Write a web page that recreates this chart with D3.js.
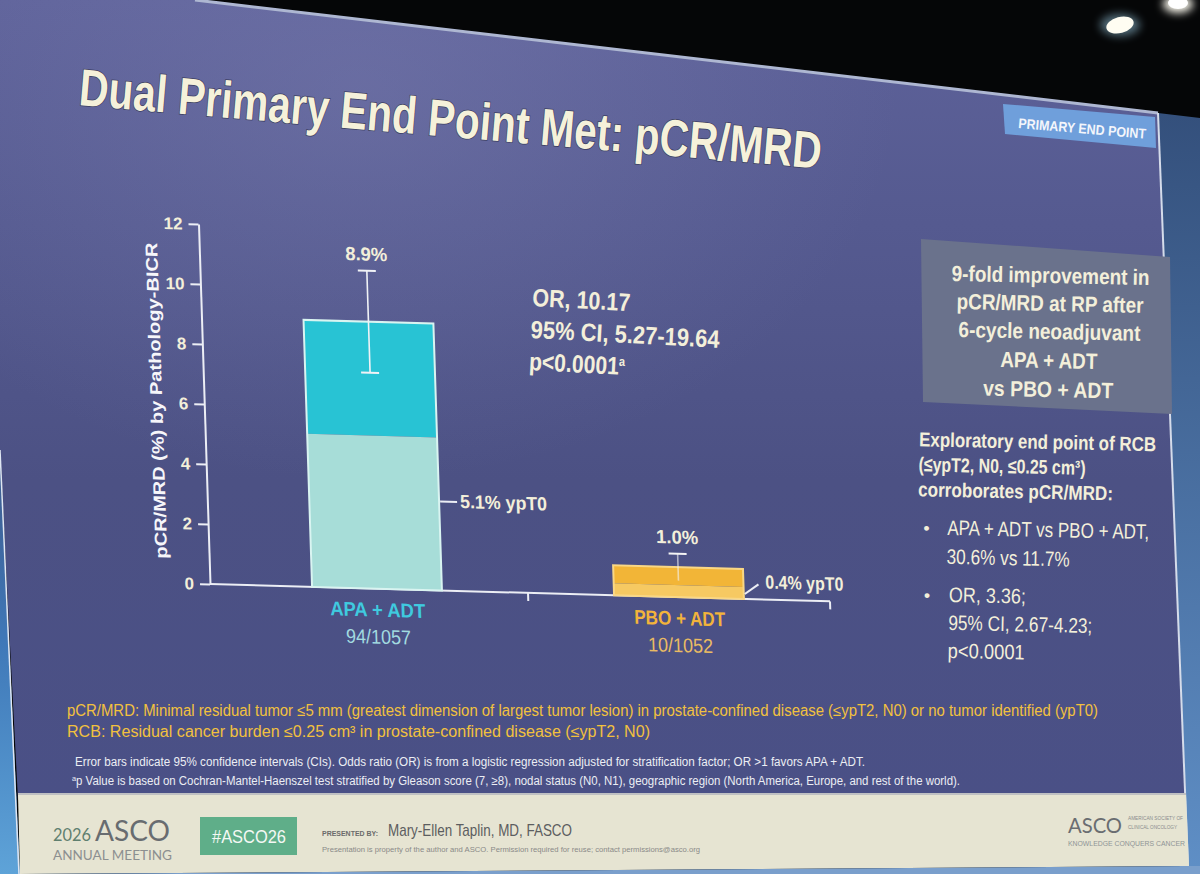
<!DOCTYPE html>
<html>
<head>
<meta charset="utf-8">
<script src="https://cdn.jsdelivr.net/npm/d3@7"></script>
<style>
    html, body { margin: 0; padding: 0; background: #050607; }
    svg { display: block; }
    text { font-family: "Liberation Sans Narrow", "Arial Narrow", "Liberation Sans", Arial, sans-serif; }
</style>
</head>
<body>
<svg id="slide" width="1200" height="874"></svg>
<script>
    /****** Data ******/

    const groups = ['APA + ADT', 'PBO + ADT'];
    const groupCounts = ['94/1057', '10/1052'];
    const pcrMrd = [8.9, 1.0];
    const ypT0 = [5.1, 0.4];
    const ciLow = [7.2, 0.55];
    const ciHigh = [10.6, 1.45];
    const yTicks = [0, 2, 4, 6, 8, 10, 12];

    const orLines = ['OR, 10.17', '95% CI, 5.27-19.64', 'p<0.0001'];
    const boxLines = ['9-fold improvement in', 'pCR/MRD at RP after', '6-cycle neoadjuvant', 'APA + ADT', 'vs PBO + ADT'];
    const rcbLines = ['Exploratory end point of RCB', '(\u2264ypT2, N0, \u22640.25 cm\u00b3)', 'corroborates pCR/MRD:'];
    const bulletA = ['APA + ADT vs PBO + ADT,', '30.6% vs 11.7%'];
    const bulletB = ['OR, 3.36;', '95% CI, 2.67-4.23;', 'p<0.0001'];
    const defLines = [
        'pCR/MRD: Minimal residual tumor \u22645 mm (greatest dimension of largest tumor lesion) in prostate-confined disease (\u2264ypT2, N0) or no tumor identified (ypT0)',
        'RCB: Residual cancer burden \u22640.25 cm\u00b3 in prostate-confined disease (\u2264ypT2, N0)'
    ];
    const noteLines = [
        'Error bars indicate 95% confidence intervals (CIs). Odds ratio (OR) is from a logistic regression adjusted for stratification factor; OR >1 favors APA + ADT.',
        'p Value is based on Cochran-Mantel-Haenszel test stratified by Gleason score (7, \u22658), nodal status (N0, N1), geographic region (North America, Europe, and rest of the world).'
    ];

    /****** Helpers ******/

    const svg = d3.select('#slide');
    const cream = '#f3efda';

    function addText( g, str, x, y, o ) {
        o = o || {};
        const t = g.append('text')
            .attr('x', x).attr('y', y)
            .attr('font-size', o.size || 16)
            .attr('font-weight', o.weight || 'normal')
            .attr('fill', o.fill || cream)
            .attr('text-anchor', o.anchor || 'start')
            .text(str);
        if ( o.w ) t.attr('textLength', o.w).attr('lengthAdjust', 'spacingAndGlyphs');
        if ( o.family ) t.style('font-family', o.family);
        return t;
    }

    /****** Backdrop (screen, room, edges) ******/

    const line = d3.line();
    const bodyPts = [[0, 0], [195, 0], [1158, 113], [1186, 800], [18, 800], [0, 450]];

    const defs = svg.append('defs');
    defs.append('clipPath').attr('id', 'bodyClip')
        .append('path').attr('d', line(bodyPts) + 'Z');

    const bg = defs.append('linearGradient').attr('id', 'bodyGrad')
        .attr('x1', 0).attr('y1', 0).attr('x2', 0).attr('y2', 1);
    bg.append('stop').attr('offset', '0%').attr('stop-color', '#5e629a');
    bg.append('stop').attr('offset', '28%').attr('stop-color', '#555a90');
    bg.append('stop').attr('offset', '60%').attr('stop-color', '#4c5184');
    bg.append('stop').attr('offset', '100%').attr('stop-color', '#4a5086');

    const haze = defs.append('radialGradient').attr('id', 'haze')
        .attr('cx', 0.3).attr('cy', 0.1).attr('r', 0.45);
    haze.append('stop').attr('offset', '0%').attr('stop-color', '#8a8cbc').attr('stop-opacity', 0.3);
    haze.append('stop').attr('offset', '100%').attr('stop-color', '#8a8cbc').attr('stop-opacity', 0);

    const side = defs.append('linearGradient').attr('id', 'sideGrad')
        .attr('x1', 0).attr('y1', 0).attr('x2', 0).attr('y2', 1);
    side.append('stop').attr('offset', '0%').attr('stop-color', '#34507c');
    side.append('stop').attr('offset', '100%').attr('stop-color', '#5f8fc6');

    const leftGrad = defs.append('linearGradient').attr('id', 'leftGrad')
        .attr('x1', 0).attr('y1', 0).attr('x2', 0).attr('y2', 1);
    leftGrad.append('stop').attr('offset', '0%').attr('stop-color', '#3e5a8c');
    leftGrad.append('stop').attr('offset', '45%').attr('stop-color', '#3f78b8');
    leftGrad.append('stop').attr('offset', '100%').attr('stop-color', '#5ea3d8');

    const glow = defs.append('filter').attr('id', 'glow').attr('x', '-100%').attr('y', '-100%')
        .attr('width', '300%').attr('height', '300%');
    glow.append('feGaussianBlur').attr('stdDeviation', 4);

    svg.append('rect').attr('width', 1200).attr('height', 874).attr('fill', '#050607');
    svg.append('path').attr('fill', 'url(#sideGrad)')
        .attr('d', line([[1158, 113], [1200, 118], [1200, 874], [1180, 874]]) + 'Z');
    svg.append('path').attr('fill', 'url(#leftGrad)')
        .attr('d', line([[0, 450], [20, 874], [0, 874]]) + 'Z');
    svg.append('path').attr('fill', 'url(#bodyGrad)').attr('d', line(bodyPts) + 'Z');
    svg.append('rect').attr('width', 1200).attr('height', 874)
        .attr('fill', 'url(#haze)').attr('clip-path', 'url(#bodyClip)');

    // screen edge highlights
    svg.append('path').attr('stroke', '#aeb7d2').attr('stroke-width', 3).attr('fill', 'none')
        .attr('d', line([[195, 0], [1158, 113]]));
    svg.append('path').attr('stroke', '#d5dcea').attr('stroke-width', 2).attr('fill', 'none')
        .attr('d', line([[1158, 113], [1188, 866]]));
    svg.append('path').attr('stroke', '#dfe6f2').attr('stroke-width', 1.5).attr('fill', 'none')
        .attr('d', line([[0, 450], [19, 874]]));

    // stage lights
    svg.append('ellipse').attr('cx', 1120).attr('cy', 25).attr('rx', 20).attr('ry', 11)
        .attr('fill', '#9fd0e8').attr('opacity', 0.5).attr('filter', 'url(#glow)');
    svg.append('ellipse').attr('cx', 1120).attr('cy', 25).attr('rx', 14).attr('ry', 8)
        .attr('fill', '#fffdf2').attr('transform', 'rotate(-15,1120,25)');
    svg.append('ellipse').attr('cx', 1178).attr('cy', 4).attr('rx', 15).attr('ry', 9)
        .attr('fill', '#fffdf2').attr('filter', 'url(#glow)');
    svg.append('ellipse').attr('cx', 1178).attr('cy', 3).attr('rx', 10).attr('ry', 6)
        .attr('fill', '#ffffff');

    /****** Title + tag ******/

    addText(svg, 'Dual Primary End Point Met: pCR/MRD', 78, 105,
        { size: 52, weight: 'bold', fill: '#f5f1da', w: 745 })
        .attr('transform', 'rotate(4.9,78,105)')
        .style('paint-order', 'stroke').attr('stroke', '#3a3d60').attr('stroke-width', 1.5);

    svg.append('path').attr('fill', '#6f9fdb')
        .attr('d', line([[1003, 104], [1155, 117], [1156, 148], [1005, 134]]) + 'Z');
    addText(svg, 'PRIMARY END POINT', 1018, 128, { size: 14, weight: 'bold', fill: '#f4f6fb', w: 128 })
        .attr('transform', 'rotate(4.8,1018,128)');

    /****** Chart ******/

    const x0 = 210, y0 = 584;
    const chart = svg.append('g')
        .attr('transform', `translate(${x0},${y0}) matrix(1,0.028,0.032,1,0,0) translate(${-x0},${-y0})`);

    const x = d3.scaleBand().domain(groups).range([226, 830]);
    const y = d3.scaleLinear().domain([0, 12]).range([y0, 224]);
    const barW = x.bandwidth() * 0.43;
    const cx = d => x(d) + x.bandwidth() / 2;

    const palette = {
        top: ['#28c3d4', '#f2b537'],
        low: ['#a7ddd8', '#f6c962'],
        edge: ['#d9f4f1', '#f9d785'],
        label: ['#3fcadf', '#f2b43b'],
        count: ['#a2dbe0', '#e9bb63']
    };

    // y axis
    const yAxis = chart.append('g').attr('transform', `translate(${x0},0)`)
        .call(d3.axisLeft(y).tickValues(yTicks).tickSize(10).tickSizeOuter(0).tickPadding(6));
    yAxis.select('.domain').attr('stroke', '#eceef5').attr('stroke-width', 2);
    yAxis.selectAll('.tick line').attr('stroke', '#eceef5').attr('stroke-width', 2);
    yAxis.selectAll('.tick text').attr('fill', cream).attr('font-size', 17).attr('font-weight', 'bold')
        .style('font-family', '"Liberation Sans Narrow","Arial Narrow","Liberation Sans",Arial,sans-serif');

    addText(chart, 'pCR/MRD (%) by Pathology-BICR', 0, 0,
        { size: 17, weight: 'bold', fill: '#f6f6fa', anchor: 'middle', w: 316 })
        .attr('transform', 'translate(168,402) rotate(-90)');

    // x axis: baseline plus ticks at the category boundaries
    const xEnd = x.range()[1];
    chart.append('line').attr('x1', x0).attr('x2', xEnd).attr('y1', y0).attr('y2', y0)
        .attr('stroke', '#eceef5').attr('stroke-width', 2);
    chart.selectAll('.xtick').data(groups).join('line').attr('class', 'xtick')
        .attr('x1', d => x(d) + x.step()).attr('x2', d => x(d) + x.step())
        .attr('y1', y0).attr('y2', y0 + 8)
        .attr('stroke', '#eceef5').attr('stroke-width', 2);

    // stacked bars: ypT0 part at the bottom, rest of pCR/MRD above
    const bars = chart.selectAll('.bar').data(groups).join('g').attr('class', 'bar');
    bars.append('rect')
        .attr('x', d => cx(d) - barW / 2).attr('width', barW)
        .attr('y', (d, i) => y(pcrMrd[i])).attr('height', (d, i) => y(ypT0[i]) - y(pcrMrd[i]))
        .attr('fill', (d, i) => palette.top[i]);
    bars.append('rect')
        .attr('x', d => cx(d) - barW / 2).attr('width', barW)
        .attr('y', (d, i) => y(ypT0[i])).attr('height', (d, i) => y0 - y(ypT0[i]))
        .attr('fill', (d, i) => palette.low[i]);
    bars.append('rect')
        .attr('x', d => cx(d) - barW / 2).attr('width', barW)
        .attr('y', (d, i) => y(pcrMrd[i])).attr('height', (d, i) => y0 - y(pcrMrd[i]))
        .attr('fill', 'none').attr('stroke', (d, i) => palette.edge[i]).attr('stroke-width', 2);

    // error bars
    const ebColor = ['#f0f2f6', '#f4f4f4'];
    bars.append('line')
        .attr('x1', d => cx(d)).attr('x2', d => cx(d))
        .attr('y1', (d, i) => y(ciLow[i])).attr('y2', (d, i) => y(ciHigh[i]))
        .attr('stroke', (d, i) => ebColor[i]).attr('stroke-width', 1.6)
        .attr('stroke-opacity', (d, i) => i ? 0.6 : 1);
    [ciLow, ciHigh].forEach( (ci, k) => {
        bars.append('line')
            .attr('x1', d => cx(d) - 9).attr('x2', d => cx(d) + 9)
            .attr('y1', (d, i) => y(ci[i])).attr('y2', (d, i) => y(ci[i]))
            .attr('stroke', (d, i) => ebColor[i]).attr('stroke-width', 2)
            .attr('stroke-opacity', (d, i) => (i && !k) ? 0 : 1);
    });

    // value labels above error bars
    const pct = d3.format('.1f');
    bars.append('text')
        .attr('x', d => cx(d)).attr('y', (d, i) => y(ciHigh[i]) - 10)
        .attr('text-anchor', 'middle').attr('font-size', 19).attr('font-weight', 'bold').attr('fill', cream)
        .attr('textLength', 42).attr('lengthAdjust', 'spacingAndGlyphs')
        .text((d, i) => pct(pcrMrd[i]) + '%');

    // ypT0 call-outs
    const apaR = cx(groups[0]) + barW / 2, pboR = cx(groups[1]) + barW / 2;
    chart.append('line').attr('x1', apaR + 1).attr('x2', apaR + 18).attr('y1', 495).attr('y2', 495)
        .attr('stroke', '#eceef5').attr('stroke-width', 2);
    addText(chart, pct(ypT0[0]) + '% ypT0', apaR + 21, 501, { size: 19, weight: 'bold', w: 87 });
    chart.append('line').attr('x1', pboR + 1).attr('x2', pboR + 15).attr('y1', y0 - 5).attr('y2', y0 - 15)
        .attr('stroke', '#eceef5').attr('stroke-width', 2);
    addText(chart, pct(ypT0[1]) + '% ypT0', pboR + 22, y0 - 11, { size: 19, weight: 'bold', w: 78 });

    // category labels
    const labelW = [95, 91];
    bars.append('text')
        .attr('x', d => cx(d)).attr('y', y0 + 28).attr('text-anchor', 'middle')
        .attr('font-size', 20).attr('font-weight', 'bold').attr('fill', (d, i) => palette.label[i])
        .attr('textLength', (d, i) => labelW[i]).attr('lengthAdjust', 'spacingAndGlyphs')
        .text(d => d);
    bars.append('text')
        .attr('x', d => cx(d)).attr('y', y0 + 55).attr('text-anchor', 'middle')
        .attr('font-size', 20).attr('fill', (d, i) => palette.count[i])
        .attr('textLength', 65).attr('lengthAdjust', 'spacingAndGlyphs')
        .text((d, i) => groupCounts[i]);

    /****** Odds ratio block ******/

    const orG = svg.append('g').attr('transform', 'rotate(3,532,306)');
    const orW = [98, 189, 96];
    orLines.forEach( (s, i) => {
        const t = addText(orG, s, 532, 306 + i * 32, { size: 25, weight: 'bold', w: orW[i] });
        if ( i === 2 ) t.append('tspan').attr('font-size', 13).attr('dy', -9).text('a');
    });

    /****** Right panel ******/

    svg.append('path').attr('fill', '#6a728c')
        .attr('d', line([[921, 239], [1170, 257], [1172, 414], [923, 402]]) + 'Z');
    const rp = svg.append('g').attr('transform', 'rotate(1.2,1050,400)');
    const boxW = [198, 187, 182, 97, 130];
    const boxY = [283, 311, 339, 368, 397];
    boxLines.forEach( (s, i) => addText(rp, s, 1048, boxY[i],
        { size: 22, weight: 'bold', anchor: 'middle', w: boxW[i] }));

    const rcbW = [237, 167, 195];
    rcbLines.forEach( (s, i) => addText(rp, s, 920, 449 + i * 25, { size: 20, weight: 'bold', w: rcbW[i] }));

    addText(rp, '\u2022', 926, 537, { size: 18 });
    const bAW = [202, 123];
    bulletA.forEach( (s, i) => addText(rp, s, 950, 537 + i * 29, { size: 21, w: bAW[i] }));
    addText(rp, '\u2022', 928, 604, { size: 18 });
    const bBW = [77, 144, 77];
    bulletB.forEach( (s, i) => addText(rp, s, 953, 604 + i * 28, { size: 21, w: bBW[i] }));

    /****** Definitions and notes ******/

    const defW = [1031, 583];
    defLines.forEach( (s, i) => addText(svg, s, 67, 716 + i * 21, { size: 16, fill: '#f2c13e', w: defW[i] }));
    const noteW = [790, 888];
    noteLines.forEach( (s, i) => {
        const t = addText(svg, i ? '' : s, i ? 72 : 75, 766 + i * 19, { size: 12.5, fill: '#eceef4', w: noteW[i] });
        if ( i ) {
            t.append('tspan').attr('font-size', 8).attr('dy', -4).text('a');
            t.append('tspan').attr('dy', 4).text(s);
        }
    });

    /****** Footer ******/

    svg.append('path').attr('fill', '#e6e4d2')
        .attr('d', line([[18, 795], [1186, 795], [1189, 866], [20, 874]]) + 'Z');
    svg.append('path').attr('stroke', '#bfc0c2').attr('stroke-width', 2).attr('fill', 'none')
        .attr('d', line([[18, 794], [1186, 794]]));
    svg.append('path').attr('fill', '#7a9fcc')
        .attr('d', line([[20, 874], [1189, 866], [1200, 866], [1200, 874]]) + 'Z');

    const foot = '"Lato","Open Sans","Liberation Sans",sans-serif';
    addText(svg, '2026', 53, 841, { size: 18, fill: '#5f7f6f', family: foot, w: 38 });
    addText(svg, 'ASCO', 95, 841, { size: 28, fill: '#686c70', family: foot, w: 75 });
    addText(svg, 'ANNUAL MEETING', 53, 860, { size: 13, fill: '#8c8f90', family: foot, w: 119 });
    svg.append('rect').attr('x', 200).attr('y', 817).attr('width', 97).attr('height', 38).attr('fill', '#5fae89');
    addText(svg, '#ASCO26', 249, 843, { size: 19, fill: '#f4f8f4', anchor: 'middle', w: 74 });
    addText(svg, 'PRESENTED BY:', 322, 836, { size: 8, weight: 'bold', fill: '#6a6a6a', w: 56 });
    addText(svg, 'Mary-Ellen Taplin, MD, FASCO', 388, 836, { size: 17, fill: '#5c5d60', w: 184 });
    addText(svg, 'Presentation is property of the author and ASCO. Permission required for reuse; contact permissions@asco.org',
        322, 852, { size: 8, fill: '#8a8a88', w: 378 });
    addText(svg, 'ASCO', 1068, 833, { size: 21, fill: '#6a6d71', family: foot, w: 54 });
    addText(svg, 'AMERICAN SOCIETY OF', 1128, 820, { size: 4.5, fill: '#8a8c8e', w: 55 });
    addText(svg, 'CLINICAL ONCOLOGY', 1128, 829, { size: 4.5, fill: '#8a8c8e', w: 49 });
    addText(svg, 'KNOWLEDGE CONQUERS CANCER', 1068, 846, { size: 7, fill: '#8f9496', w: 117 });
</script>
</body>
</html>
